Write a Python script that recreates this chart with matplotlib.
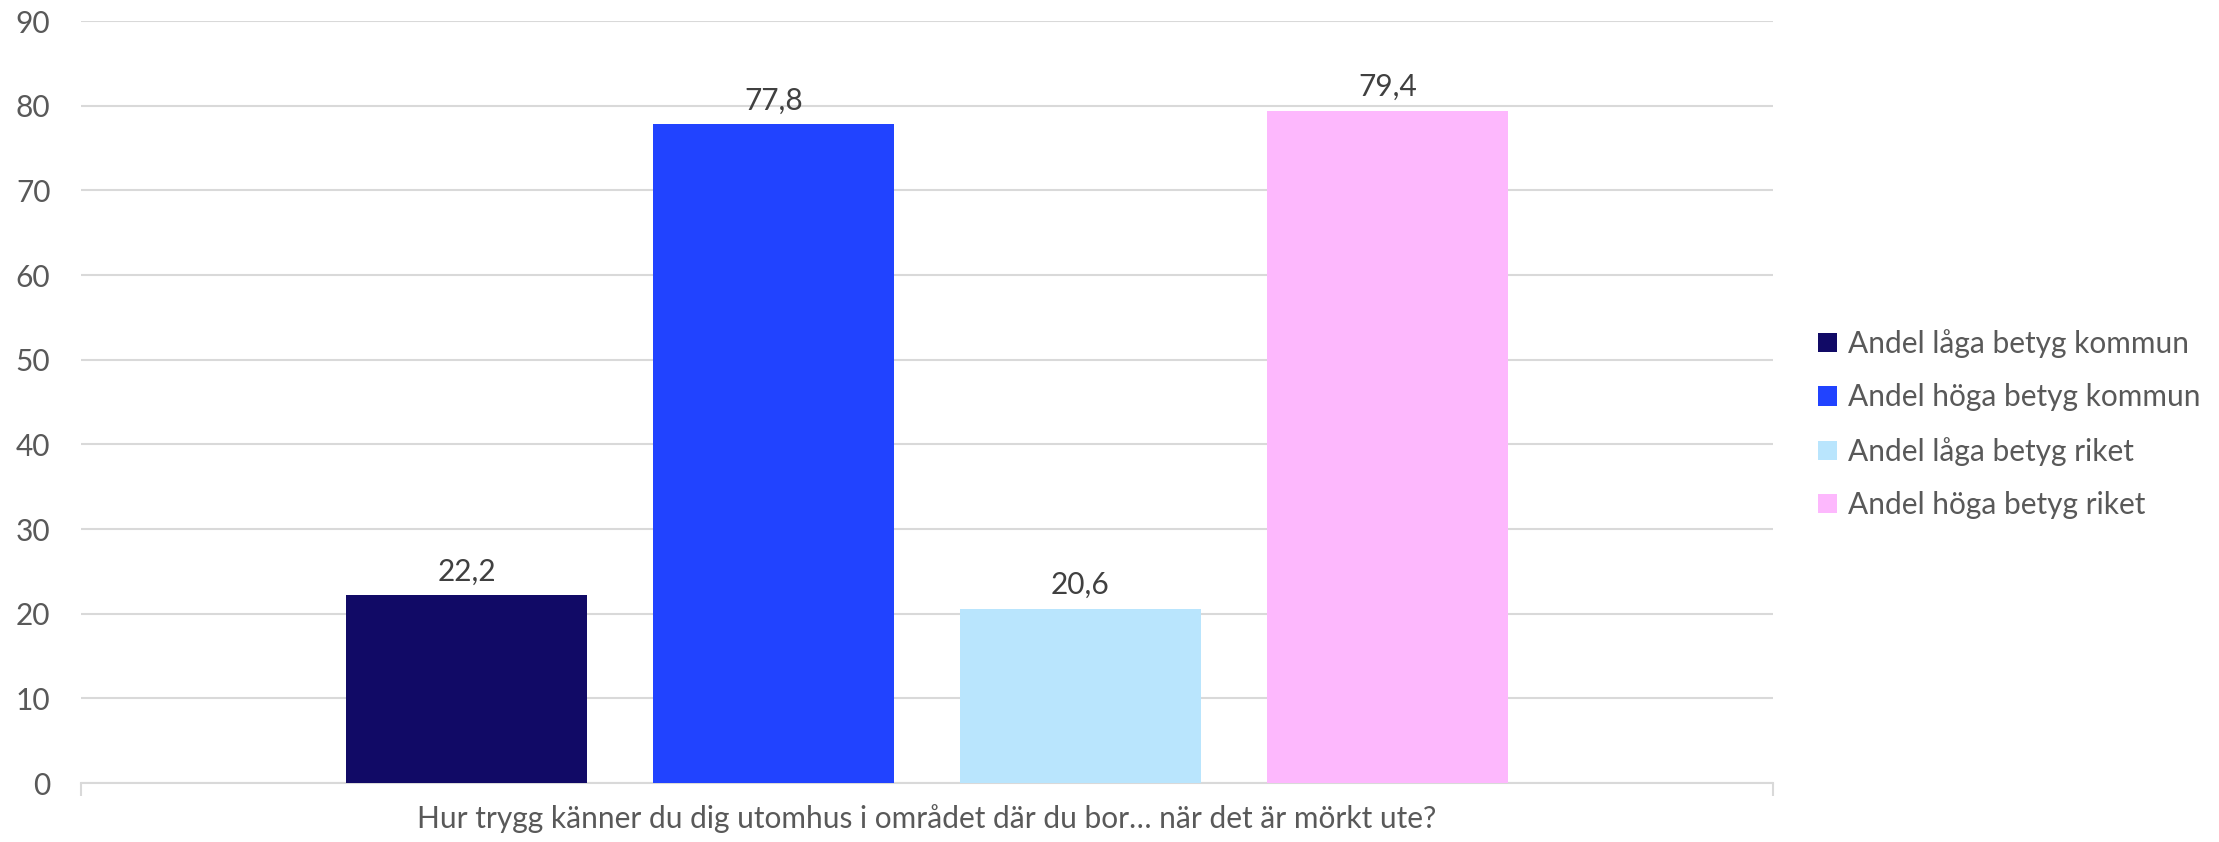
import matplotlib.pyplot as plt
import numpy as np

plt.rcParams['font.family'] = ['Lato', 'DejaVu Sans']

# data
category = "Hur trygg känner du dig utomhus i området där du bor… när det är mörkt ute?"
series = ["Andel låga betyg kommun", "Andel höga betyg kommun",
          "Andel låga betyg riket", "Andel höga betyg riket"]
values = [22.2, 77.8, 20.6, 79.4]
colors = ["#110a66", "#2143ff", "#b9e5fd", "#fdb8fd"]

text_col = "#595959"
grid_col = "#d9d9d9"
fs = 21.5

fig = plt.figure(figsize=(22.19, 8.42), dpi=100)
ax = fig.add_axes([0.0365, 0.070, 0.7625, 0.905])

step = 0.1814
width = 0.1424
offsets = (np.arange(len(values)) - 1.5) * step
for i in range(len(values)):
    ax.bar(offsets[i], values[i], width=width, color=colors[i], label=series[i], zorder=3)
    ax.annotate(f"{values[i]:.1f}".replace(".", ","), (offsets[i], values[i]),
                xytext=(0, 7), textcoords="offset points", ha="center", va="bottom",
                fontsize=fs, color="#404040")

ax.set_xlim(-0.5, 0.5)
ax.set_ylim(0, 90)
ax.set_yticks(range(0, 91, 10))
ax.yaxis.grid(True, color=grid_col, linewidth=1.5, zorder=0)
ax.tick_params(axis="y", length=0, labelsize=fs, labelcolor=text_col, pad=22)

ax.set_xticks([0])
ax.set_xticklabels([category])
ax.set_xticks([-0.5, 0.5], minor=True)
ax.tick_params(axis="x", which="major", length=0, labelsize=fs, labelcolor=text_col, pad=15)
ax.tick_params(axis="x", which="minor", length=9, color=grid_col, width=1.5)

for s in ["top", "right", "left"]:
    ax.spines[s].set_visible(False)
ax.spines["bottom"].set_color(grid_col)
ax.spines["bottom"].set_linewidth(1.5)

ax.legend(loc="center left", bbox_to_anchor=(1.011, 0.471), frameon=False,
          fontsize=fs, handlelength=0.62, handleheight=0.62, handletextpad=0.38,
          labelspacing=0.85, labelcolor=text_col)

fig.savefig("out.png", dpi=100)
